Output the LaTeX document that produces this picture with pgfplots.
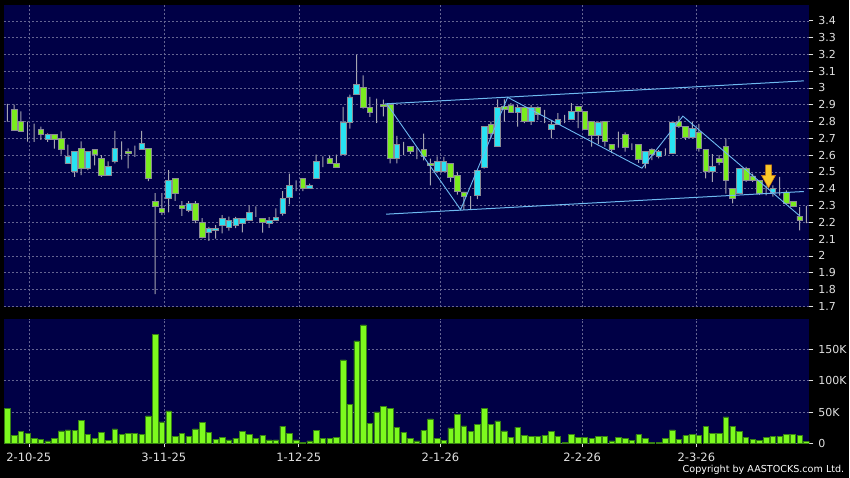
\documentclass[border=0pt]{standalone}
\usepackage{fontspec}
\setmainfont{DejaVu Sans}
\usepackage{pgfplots}
\pgfplotsset{compat=1.18}
\usepackage{pgfplotstable}

\definecolor{navy}{RGB}{0,0,70}
\definecolor{gridc}{RGB}{100,100,145}
\definecolor{cgreen}{RGB}{122,236,30}
\definecolor{ccyan}{RGB}{40,226,242}
\definecolor{cborder}{RGB}{140,140,150}
\definecolor{wickc}{RGB}{165,165,175}
\definecolor{vgreen}{RGB}{125,250,30}
\definecolor{vborder}{RGB}{55,130,20}
\definecolor{tlc}{RGB}{110,185,240}
\definecolor{tickc}{RGB}{225,225,225}
\definecolor{arrfill}{RGB}{250,200,40}
\definecolor{arrdraw}{RGB}{215,125,20}

\pgfdeclareplotmark{darrow}{%
  \pgfpathmoveto{\pgfqpoint{-3pt}{11.5pt}}%
  \pgfpathlineto{\pgfqpoint{3pt}{11.5pt}}%
  \pgfpathlineto{\pgfqpoint{3pt}{1pt}}%
  \pgfpathlineto{\pgfqpoint{7pt}{1pt}}%
  \pgfpathlineto{\pgfqpoint{0pt}{-11.5pt}}%
  \pgfpathlineto{\pgfqpoint{-7pt}{1pt}}%
  \pgfpathlineto{\pgfqpoint{-3pt}{1pt}}%
  \pgfpathclose
  \pgfusepathqfillstroke}

% i open high low close volume(K)
\pgfplotstableread{
i o h l c v
0 2.86 2.905 2.80 2.86 55.7
1 2.87 2.90 2.75 2.75 12.2
2 2.80 2.86 2.74 2.74 19.1
3 2.753 2.80 2.68 2.753 15.9
4 2.753 2.787 2.678 2.753 7.4
5 2.751 2.77 2.69 2.722 6.4
6 2.692 2.73 2.678 2.722 4.2
7 2.722 2.722 2.638 2.692 8.0
8 2.698 2.741 2.603 2.632 20.1
9 2.549 2.662 2.549 2.592 21.7
10 2.503 2.622 2.47 2.622 20.7
11 2.638 2.682 2.48 2.519 36.6
12 2.519 2.622 2.51 2.622 14.8
13 2.632 2.632 2.539 2.603 7.4
14 2.579 2.60 2.47 2.48 17.0
15 2.48 2.563 2.48 2.533 5.3
16 2.561 2.744 2.551 2.64 23.3
17 2.641 2.682 2.573 2.641 13.8
18 2.62 2.64 2.521 2.611 15.9
19 2.62 2.656 2.59 2.62 15.4
20 2.636 2.744 2.636 2.67 14.8
21 2.64 2.64 2.445 2.461 44.0
22 2.322 2.373 1.772 2.295 173.8
23 2.283 2.373 2.243 2.257 34.4
24 2.342 2.511 2.259 2.451 51.9
25 2.461 2.461 2.328 2.372 11.7
26 2.302 2.326 2.238 2.283 16.4
27 2.273 2.326 2.26 2.312 10.6
28 2.312 2.326 2.195 2.212 23.3
29 2.199 2.224 2.104 2.109 32.9
30 2.14 2.173 2.089 2.164 17.0
31 2.152 2.183 2.102 2.162 6.4
32 2.181 2.243 2.133 2.224 9.0
33 2.169 2.233 2.15 2.213 5.8
34 2.18 2.232 2.165 2.223 8.5
35 2.193 2.223 2.139 2.223 18.6
36 2.209 2.30 2.209 2.259 13.8
37 2.253 2.294 2.232 2.253 7.4
38 2.222 2.222 2.138 2.199 12.7
39 2.193 2.23 2.167 2.212 5.8
40 2.209 2.283 2.209 2.228 5.8
41 2.252 2.385 2.24 2.341 27.6
42 2.351 2.49 2.306 2.421 15.9
43 2.421 2.45 2.385 2.421 5.8
44 2.46 2.46 2.386 2.40 2.1
45 2.401 2.43 2.40 2.421 4.2
46 2.46 2.603 2.46 2.563 21.2
47 2.568 2.593 2.528 2.568 7.4
48 2.579 2.598 2.55 2.55 7.4
49 2.55 2.603 2.53 2.53 10.1
50 2.603 2.887 2.603 2.798 133.0
51 2.798 2.96 2.758 2.946 62.5
52 2.96 3.198 2.96 3.02 163.2
53 3.002 3.075 2.877 2.883 188.7
54 2.883 2.946 2.827 2.853 31.3
55 2.863 2.937 2.792 2.863 50.4
56 2.90 2.93 2.83 2.888 59.4
57 2.90 2.90 2.55 2.579 56.2
58 2.579 2.714 2.55 2.663 25.4
59 2.663 2.679 2.60 2.663 18.0
60 2.653 2.653 2.607 2.623 8.5
61 2.626 2.645 2.576 2.626 4.2
62 2.633 2.728 2.569 2.593 20.7
63 2.552 2.579 2.42 2.538 39.2
64 2.504 2.593 2.504 2.563 7.4
65 2.504 2.59 2.504 2.563 4.8
66 2.55 2.55 2.44 2.47 24.9
67 2.48 2.50 2.365 2.387 46.1
68 2.381 2.381 2.274 2.353 28.1
69 2.356 2.356 2.278 2.356 18.6
70 2.361 2.51 2.337 2.51 30.7
71 2.53 2.773 2.52 2.773 56.2
72 2.783 2.80 2.70 2.729 30.7
73 2.653 2.932 2.653 2.884 36.0
74 2.888 2.932 2.80 2.874 20.1
75 2.898 2.91 2.852 2.852 9.5
76 2.852 2.898 2.77 2.884 26.0
77 2.884 2.884 2.79 2.80 12.7
78 2.80 2.898 2.78 2.884 11.7
79 2.884 2.89 2.81 2.844 11.1
80 2.848 2.87 2.79 2.848 12.7
81 2.754 2.81 2.70 2.784 18.6
82 2.784 2.85 2.784 2.813 11.7
83 2.813 2.84 2.79 2.813 2.1
84 2.813 2.91 2.813 2.858 14.8
85 2.889 2.889 2.76 2.859 9.5
86 2.859 2.859 2.755 2.755 9.0
87 2.80 2.80 2.651 2.715 8.5
88 2.715 2.80 2.665 2.794 11.1
89 2.80 2.80 2.651 2.681 11.1
90 2.665 2.665 2.611 2.635 4.2
91 2.698 2.74 2.645 2.698 10.1
92 2.725 2.735 2.62 2.646 8.0
93 2.66 2.67 2.63 2.66 5.3
94 2.665 2.665 2.553 2.575 13.8
95 2.552 2.621 2.521 2.621 7.4
96 2.635 2.64 2.57 2.606 1.6
97 2.595 2.63 2.58 2.621 1.6
98 2.631 2.64 2.60 2.631 7.4
99 2.612 2.80 2.612 2.794 21.7
100 2.802 2.833 2.762 2.772 6.9
101 2.77 2.77 2.69 2.705 12.2
102 2.705 2.80 2.70 2.758 13.8
103 2.738 2.786 2.621 2.638 13.3
104 2.633 2.633 2.462 2.502 27.6
105 2.506 2.605 2.44 2.532 16.4
106 2.58 2.60 2.54 2.56 15.9
107 2.651 2.70 2.37 2.45 42.4
108 2.40 2.40 2.312 2.342 27.6
109 2.373 2.52 2.373 2.52 19.6
110 2.52 2.53 2.44 2.45 9.5
111 2.476 2.49 2.44 2.451 6.4
112 2.448 2.448 2.363 2.373 5.3
113 2.39 2.42 2.36 2.39 9.0
114 2.381 2.42 2.353 2.401 10.6
115 2.412 2.47 2.358 2.412 10.6
116 2.381 2.39 2.31 2.312 14.8
117 2.324 2.324 2.29 2.292 14.8
118 2.237 2.29 2.151 2.211 13.3
119 2.252 2.298 2.195 2.252 2.7
}\data

\pgfplotsset{
  panel/.style={anchor=south west, scale only axis, width=806pt, xmin=-0.5, xmax=119.45},
  upper/.style={panel, at={(4pt,170.5pt)}, height=302.5pt, ymin=1.6935, ymax=3.494},
  over/.style={upper, hide axis},
  tl/.style={/pgf/number format/assume math mode=true, font=\fontsize{11}{13}\selectfont, text=tickc},
  gridsty/.style={grid=major, grid style={gridc, dash pattern=on 2pt off 2pt, line width=0.5pt}},
}

\begin{document}
\begin{tikzpicture}
\fill[black] (0,0) rectangle (850pt,478pt);

% upper panel: background, grid, price ticks, wicks
\begin{axis}[upper,
  axis background/.style={fill=navy},
  axis line style={draw=none},
  gridsty,
  ybar stacked, bar width=1pt,
  xtick={3.2,23.3,43.4,64.5,85.6,102.6}, xticklabels={}, xmajorticks=false,
  ytick={1.7,1.8,...,3.45}, ytick pos=right, yticklabel pos=right,
  tick align=outside, major tick length=4pt, tick style={tickc, line width=0.6pt},
  yticklabel style={tl, /pgf/number format/fixed, /pgf/number format/precision=1, xshift=1.5pt},
]
\addplot[draw=none, fill=none] table[x=i, y=l] {\data};
\addplot[draw=none, fill=wickc] table[x=i, y expr={\thisrow{h}-\thisrow{l}}] {\data};
\end{axis}

% falling (green) bodies
\begin{axis}[over, ybar stacked, bar width=5.6pt]
\addplot[draw=none, fill=none] table[x=i, y expr={min(\thisrow{o},\thisrow{c})}] {\data};
\addplot[fill=cgreen, draw=cborder, line width=0.6pt] table[x=i, y expr={max(\thisrow{o}-\thisrow{c},0)}] {\data};
\end{axis}

% rising (cyan) bodies
\begin{axis}[over, ybar stacked, bar width=5.6pt]
\addplot[draw=none, fill=none] table[x=i, y expr={min(\thisrow{o},\thisrow{c})}] {\data};
\addplot[fill=ccyan, draw=cborder, line width=0.6pt] table[x=i, y expr={max(\thisrow{c}-\thisrow{o},0)}] {\data};
\end{axis}

% trend lines and arrow
\begin{axis}[over]
\addplot[tlc, line width=1pt] coordinates {(56.2,2.905) (118.6,3.042)};
\addplot[tlc, line width=1pt] coordinates {(56.4,2.248) (118.6,2.383)};
\addplot[tlc, line width=0.9pt] coordinates {(56.5,2.905) (67.5,2.275) (74.5,2.944) (94.5,2.522) (100.6,2.832) (118.0,2.238)};
\addplot[only marks, mark=darrow, mark options={fill=arrfill, draw=arrdraw, line width=0.5pt}] coordinates {(113.35,2.473)};
\end{axis}

% volume panel
\begin{axis}[panel, at={(4pt,34.3pt)}, height=124.7pt, ymin=0, ymax=198.5,
  axis background/.style={fill=navy},
  axis line style={draw=none},
  gridsty,
  xtick={3.2,23.3,43.4,64.5,85.6,102.6},
  xticklabels={2-10-25,3-11-25,1-12-25,2-1-26,2-2-26,2-3-26},
  xtick pos=left,
  ytick={0,50,100,150}, yticklabels={0,50K,100K,150K},
  ytick pos=right, yticklabel pos=right,
  tick align=outside, major tick length=4pt, tick style={tickc, line width=0.6pt},
  yticklabel style={tl, xshift=1.5pt},
  xticklabel style={tl, font=\fontsize{11.5}{13}\selectfont, yshift=-2pt},
]
\addplot[ybar, bar width=5.4pt, fill=vgreen, draw=vborder, line width=0.5pt] table[x=i, y=v] {\data};
\end{axis}

\node[anchor=base east, text=white, font=\fontsize{9.6}{11}\selectfont, inner sep=0pt] at (845pt,4.8pt) {Copyright by AASTOCKS.com Ltd.};
\end{tikzpicture}
\end{document}
